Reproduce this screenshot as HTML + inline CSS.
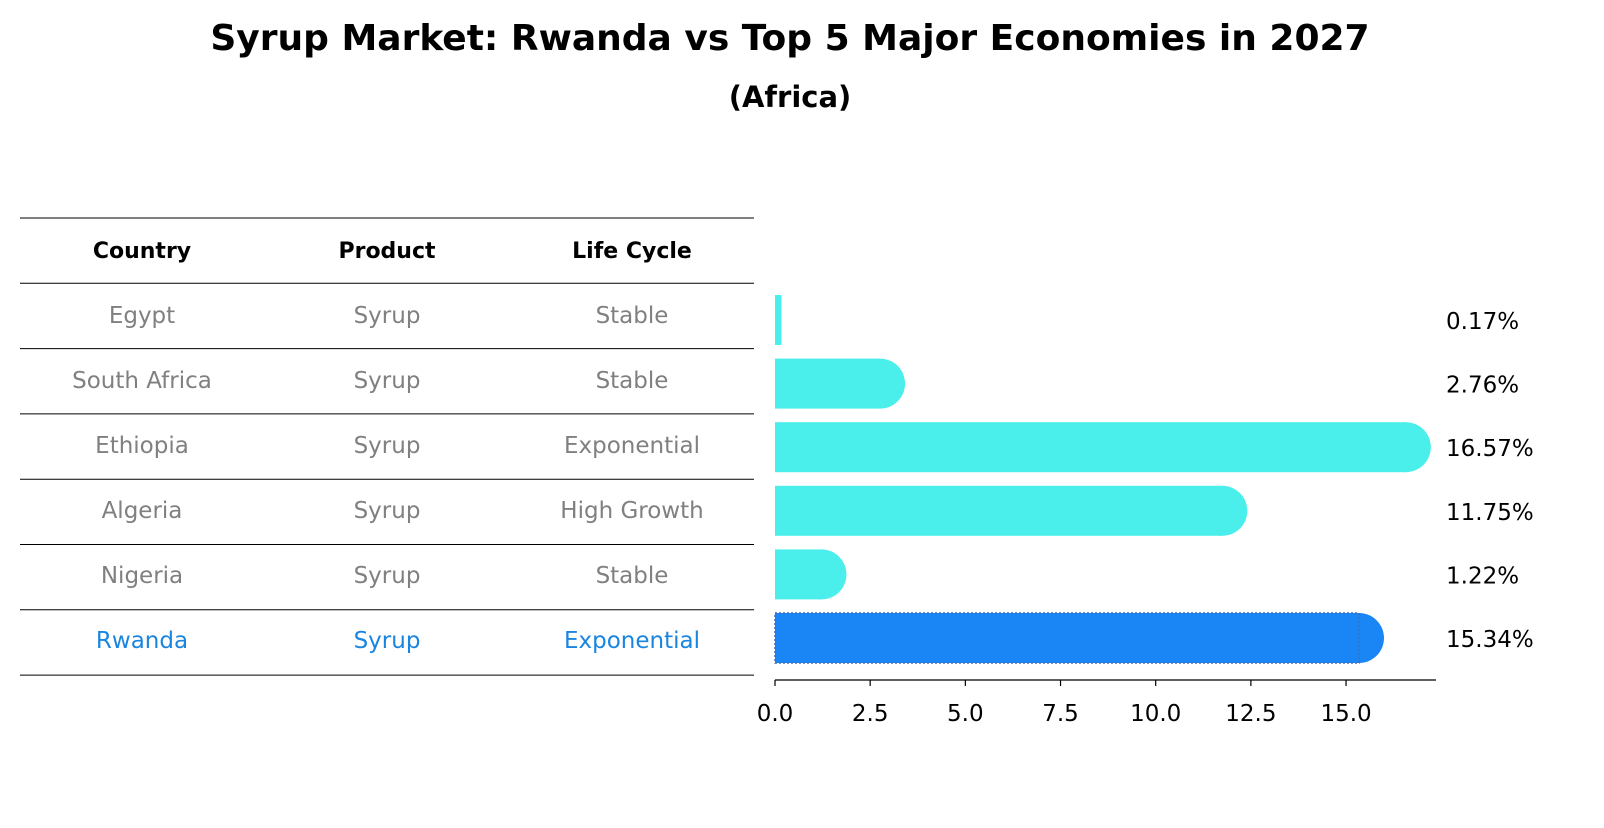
<!DOCTYPE html>
<html><head><meta charset="utf-8"><style>
body{margin:0;background:#fff;font-family:"Liberation Sans","DejaVu Sans",sans-serif}
</style></head><body>
<svg width="1604" height="823" xmlns="http://www.w3.org/2000/svg" font-family="DejaVu Sans, Liberation Sans, sans-serif">
<text x="790" y="50" text-anchor="middle" font-size="36" font-weight="bold">Syrup Market: Rwanda vs Top 5 Major Economies in 2027</text>
<text x="790" y="107" text-anchor="middle" font-size="29" font-weight="bold">(Africa)</text>
<g id="table"></g>
<g id="bars"></g>
<g id="axis"></g>
</svg>
<script>
const countries=["Egypt","South Africa","Ethiopia","Algeria","Nigeria","Rwanda"];
const products=["Syrup","Syrup","Syrup","Syrup","Syrup","Syrup"];
const lifeCycles=["Stable","Stable","Exponential","High Growth","Stable","Exponential"];
const values=[0.17,2.76,16.57,11.75,1.22,15.34];
const valueLabels=["0.17%","2.76%","16.57%","11.75%","1.22%","15.34%"];
const ticks=[0,2.5,5,7.5,10,12.5,15];
const tickLabels=["0.0","2.5","5.0","7.5","10.0","12.5","15.0"];
const NS="http://www.w3.org/2000/svg";
function mk(t,a,p){const e=document.createElementNS(NS,t);for(const k in a)e.setAttribute(k,a[k]);p.appendChild(e);return e;}
const x=v=>775+v*38.07;
const rowY=i=>315+i*65;
const barY=i=>320+i*63.6;
const tbl=document.getElementById('table'),bars=document.getElementById('bars'),ax=document.getElementById('axis');
const hdr=["Country","Product","Life Cycle"],cx=[142,387,632];
hdr.forEach((h,j)=>{const t=mk('text',{x:cx[j],y:258,'text-anchor':'middle','font-size':22,'font-weight':'bold'},tbl);t.textContent=h;

});
for(let k=0;k<8;k++){const l=mk('line',{x1:20,x2:754,y1:218+k*65.3,y2:218+k*65.3,stroke:'#000','stroke-width':1},tbl);

}
countries.forEach((c,i)=>{const col=i===5?'#1a85e0':'#808080';
[c,products[i],lifeCycles[i]].forEach((s,j)=>{const t=mk('text',{x:cx[j],y:rowY(i)+8,'text-anchor':'middle','font-size':23,fill:col},tbl);t.textContent=s;

});
const v=values[i],col2=i===5?'#1a85f5':'#4aeeea',y=barY(i),h=50;
const r=mk('rect',{x:775,y:y-h/2,width:x(v)-775,height:h,fill:col2},bars);


if(v>1){const cap=mk('circle',{cx:x(v),cy:y,r:h/2,fill:col2},bars);

}
if(i===5){const o=mk('rect',{x:775,y:y-h/2,width:x(v)-775,height:h,fill:'none',stroke:'#3b6fc0','stroke-width':1.5,'stroke-dasharray':'2,2'},bars);

}
const lb=mk('text',{x:1446,y:y+9,'font-size':23},bars);lb.textContent=valueLabels[i];


});
const al=mk('line',{x1:775,x2:1436,y1:680,y2:680,stroke:'#000','stroke-width':1.2},ax);


ticks.forEach((t,i)=>{const tl=mk('line',{x1:x(t),x2:x(t),y1:680,y2:686,stroke:'#000','stroke-width':1.2},ax);


const tx=mk('text',{x:x(t),y:721,'text-anchor':'middle','font-size':23},ax);tx.textContent=tickLabels[i];

});
</script>
</body></html>
